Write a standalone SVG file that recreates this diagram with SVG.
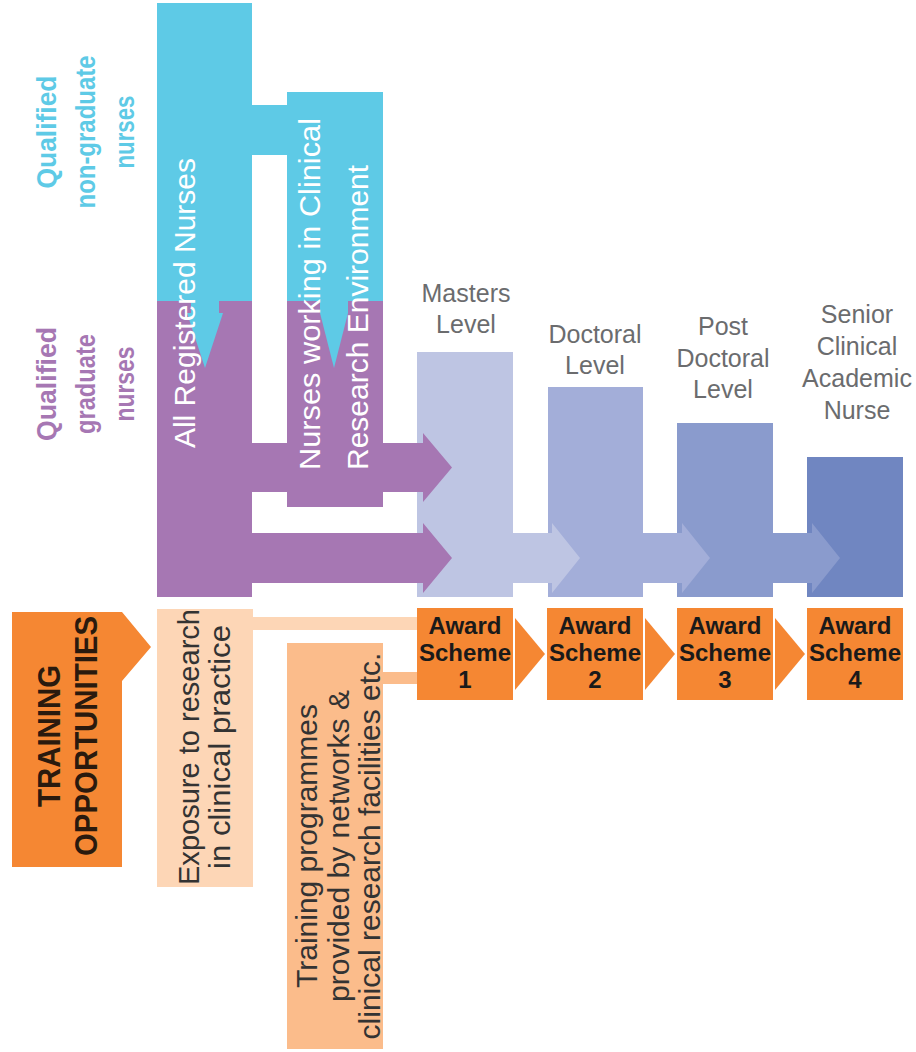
<svg xmlns="http://www.w3.org/2000/svg" width="916" height="1052" viewBox="0 0 916 1052">
<style>
text{font-family:"Liberation Sans",Arial,sans-serif}
.side{font-size:27px;font-weight:bold;text-anchor:middle}
.cy{fill:#5ecae6}
.pu{fill:#a677b3}
.wt{fill:#ffffff;font-size:30px}
.lvl{font-size:25px;fill:#6b6c6e;text-anchor:middle}
.aw{font-size:24px;font-weight:bold;fill:#1a1a1a;text-anchor:middle}
.dk{fill:#333333;font-size:30px;text-anchor:middle}
.orange{fill:#f58733}
.pl{fill:#fdd6b6}
.pm{fill:#fbbc8b}
</style>
<rect width="916" height="1052" fill="#ffffff"/>

<g id="side-labels">
<text class="side cy" transform="translate(56,132) rotate(-90)"><tspan x="0" y="0" textLength="113" lengthAdjust="spacingAndGlyphs">Qualified</tspan><tspan x="0" y="39" textLength="153" lengthAdjust="spacingAndGlyphs">non-graduate</tspan><tspan x="0" y="78" textLength="73" lengthAdjust="spacingAndGlyphs">nurses</tspan></text>
<text class="side pu" transform="translate(56,384) rotate(-90)"><tspan x="0" y="0" textLength="114" lengthAdjust="spacingAndGlyphs">Qualified</tspan><tspan x="0" y="39" textLength="100" lengthAdjust="spacingAndGlyphs">graduate</tspan><tspan x="0" y="78" textLength="75" lengthAdjust="spacingAndGlyphs">nurses</tspan></text>
</g>

<g id="levels">
<rect x="417" y="352" width="96" height="245" fill="#bec5e3"/>
<rect x="548" y="387" width="95" height="210" fill="#a3aed9"/>
<polygon points="505,533 552,533 552,523 580,558 552,593 552,583 505,583" fill="#bec5e3"/>
<rect x="677" y="423" width="96" height="174" fill="#8a9bcd"/>
<polygon points="635,533 682,533 682,523 710,558 682,593 682,583 635,583" fill="#a3aed9"/>
<rect x="807" y="457" width="96" height="140" fill="#7086c1"/>
<polygon points="765,533 812,533 812,523 840,558 812,593 812,583 765,583" fill="#8a9bcd"/>
<text class="lvl" x="466"><tspan x="466" y="302">Masters</tspan><tspan x="466" y="333">Level</tspan></text>
<text class="lvl" x="595"><tspan x="595" y="343">Doctoral</tspan><tspan x="595" y="374">Level</tspan></text>
<text class="lvl" x="723"><tspan x="723" y="335">Post</tspan><tspan x="723" y="367">Doctoral</tspan><tspan x="723" y="398">Level</tspan></text>
<text class="lvl" x="857"><tspan x="857" y="323">Senior</tspan><tspan x="857" y="355">Clinical</tspan><tspan x="857" y="387">Academic</tspan><tspan x="857" y="419">Nurse</tspan></text>
</g>

<g id="nurses-flow">
<path class="cy" d="M157,3 H252 V105 H287 V92 H383 V301 H287 V155 H252 V301 H157 Z"/>
<rect class="pu" x="157" y="301" width="95" height="296"/>
<rect class="pu" x="287" y="301" width="96" height="206"/>
<polygon class="pu" points="252,443 423,443 423,433 452,467.5 423,502 423,492 252,492"/>
<polygon class="pu" points="252,533 423,533 423,523 452,558 423,593 423,583 252,583"/>
<polygon class="cy" points="191,300 219,300 219,313 223,313 205,368 187,313 191,313"/>
<polygon class="cy" points="320,300 348,300 348,313 334,368 320,313"/>
<text id="all-registered" class="wt" text-anchor="middle" transform="translate(195,303) rotate(-90)">All Registered Nurses</text>
<text id="clinical-research" class="wt" transform="translate(320,470) rotate(-90)"><tspan x="0" y="0" textLength="352" lengthAdjust="spacingAndGlyphs">Nurses working in Clinical</tspan><tspan x="0" y="48">Research Environment</tspan></text>
</g>

<g id="training-opportunities">
<polygon class="orange" points="12,612 122,612 151,647 122,681 122,867 12,867"/>
<text transform="translate(60,736) rotate(-90)" text-anchor="middle" font-size="32" font-weight="bold" fill="#2a1a0e"><tspan x="0" y="0" textLength="142" lengthAdjust="spacingAndGlyphs">TRAINING</tspan><tspan x="0" y="37" textLength="240" lengthAdjust="spacingAndGlyphs">OPPORTUNITIES</tspan></text>
</g>

<g id="connectors">
<polygon class="pl" points="253,617 420,617 420,614 429,623.5 420,633 420,630 253,630"/>
<polygon class="pm" points="383,672 420,672 420,669 429,678 420,687 420,684 383,684"/>
<polygon class="orange" points="515,618 545,654 515,690"/>
<polygon class="orange" points="645,618 675,654 645,690"/>
<polygon class="orange" points="775,618 805,654 775,690"/>
</g>

<g id="exposure">
<rect class="pl" x="157" y="609" width="96" height="278"/>
<text class="dk" transform="translate(199,747) rotate(-90)"><tspan x="0" y="0" textLength="276" lengthAdjust="spacingAndGlyphs">Exposure to research</tspan><tspan x="0" y="31" textLength="244" lengthAdjust="spacingAndGlyphs">in clinical practice</tspan></text>
</g>

<g id="training-programmes">
<rect class="pm" x="287" y="643" width="96" height="406"/>
<text class="dk" transform="translate(317,846) rotate(-90)"><tspan x="0" y="0">Training programmes</tspan><tspan x="0" y="32">provided by networks &amp;</tspan><tspan x="0" y="63">clinical research facilities etc.</tspan></text>
</g>

<g id="award1">
<rect class="orange" x="417" y="608" width="96" height="92"/>
<text class="aw"><tspan x="465" y="634">Award</tspan><tspan x="465" y="661">Scheme</tspan><tspan x="465" y="688">1</tspan></text>
</g>
<g id="award2">
<rect class="orange" x="547" y="608" width="96" height="92"/>
<text class="aw"><tspan x="595" y="634">Award</tspan><tspan x="595" y="661">Scheme</tspan><tspan x="595" y="688">2</tspan></text>
</g>
<g id="award3">
<rect class="orange" x="677" y="608" width="96" height="92"/>
<text class="aw"><tspan x="725" y="634">Award</tspan><tspan x="725" y="661">Scheme</tspan><tspan x="725" y="688">3</tspan></text>
</g>
<g id="award4">
<rect class="orange" x="807" y="608" width="96" height="92"/>
<text class="aw"><tspan x="855" y="634">Award</tspan><tspan x="855" y="661">Scheme</tspan><tspan x="855" y="688">4</tspan></text>
</g>
</svg>
